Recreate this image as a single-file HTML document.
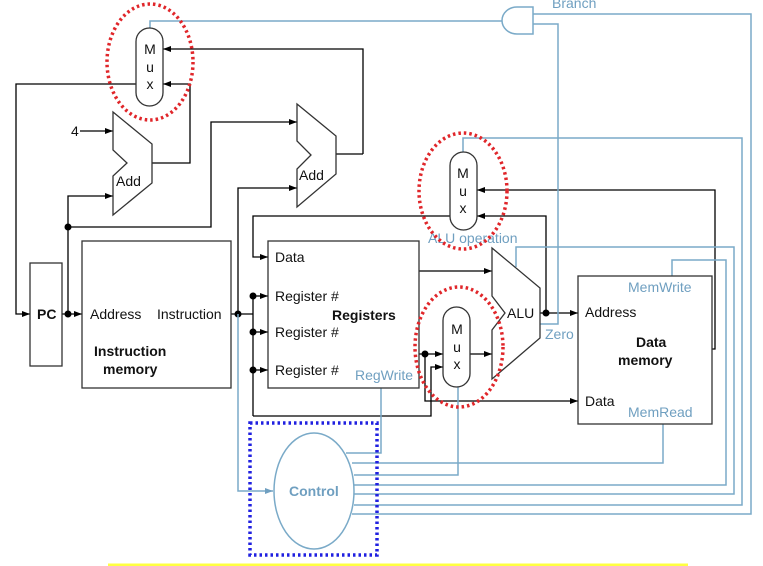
<!DOCTYPE html>
<html><head><meta charset="utf-8"><style>
html,body{margin:0;padding:0;background:#fff;}
svg{display:block;font-family:"Liberation Sans",Arial,sans-serif;}
</style></head><body>
<svg width="763" height="566" viewBox="0 0 763 566" xmlns="http://www.w3.org/2000/svg">
<defs>
<marker id="a" markerWidth="8" markerHeight="6" refX="8" refY="3" orient="auto" markerUnits="userSpaceOnUse"><path d="M0,0 L8,3 L0,6 z" fill="#000"/></marker>
<marker id="b" markerWidth="8" markerHeight="6" refX="8" refY="3" orient="auto" markerUnits="userSpaceOnUse"><path d="M0,0 L8,3 L0,6 z" fill="#6f9fc0"/></marker>
</defs>
<g fill="none" stroke="#000" stroke-width="1.3">
<polyline points="136,84 16,84 16,314 30,314" marker-end="url(#a)"/>
<polyline points="363,154 363,49 163,49" marker-end="url(#a)"/>
<polyline points="152,163 190,163 190,84 163,84" marker-end="url(#a)"/>
<line x1="80" y1="131" x2="113" y2="131" marker-end="url(#a)"/>
<polyline points="68,314 68,196 113,196" marker-end="url(#a)"/>
<polyline points="68,227 211,227 211,122 297,122" marker-end="url(#a)"/>
<polyline points="336,154 363,154"/>
<line x1="62" y1="314" x2="82" y2="314" marker-end="url(#a)"/>
<polyline points="231,314 253,314"/>
<polyline points="238,314 238,188 297,188" marker-end="url(#a)"/>
<line x1="253" y1="296" x2="253" y2="416"/>
<line x1="253" y1="296" x2="268" y2="296" marker-end="url(#a)"/>
<line x1="253" y1="332" x2="268" y2="332" marker-end="url(#a)"/>
<line x1="253" y1="370" x2="268" y2="370" marker-end="url(#a)"/>
<polyline points="253,416 431,416 431,367 443,367" marker-end="url(#a)"/>
<polyline points="450,216 253,216 253,257 268,257" marker-end="url(#a)"/>
<polyline points="546,313 546,216 477,216" marker-end="url(#a)"/>
<polyline points="712,349 715,349 715,190 477,190" marker-end="url(#a)"/>
<line x1="419" y1="271" x2="492" y2="271" marker-end="url(#a)"/>
<polyline points="419,354 443,354" marker-end="url(#a)"/>
<polyline points="425,354 425,401 578,401" marker-end="url(#a)"/>
<line x1="470" y1="354" x2="492" y2="354" marker-end="url(#a)"/>
<line x1="540" y1="313" x2="578" y2="313" marker-end="url(#a)"/>
</g>
<g fill="#000">
<circle cx="68" cy="227" r="3.5"/><circle cx="68" cy="314" r="3.5"/>
<circle cx="238" cy="314" r="3.5"/><circle cx="253" cy="296" r="3.5"/>
<circle cx="253" cy="332" r="3.5"/><circle cx="253" cy="370" r="3.5"/>
<circle cx="425" cy="354" r="3.5"/><circle cx="546" cy="313" r="3.5"/>
</g>
<g fill="none" stroke="#7aaac8" stroke-width="1.5">
<polyline points="150,28 150,21 502,21"/>
<polyline points="533,14 751,14 751,514 352,514"/>
<polyline points="540,324 558,324 558,24 533,24"/>
<polyline points="238,314 238,491 273,491" marker-end="url(#b)"/>
<polyline points="381,388 381,453 346,453"/>
<polyline points="663,424 663,463 352,463"/>
<polyline points="458,387 458,475 354,475"/>
<polyline points="672,276 672,260 726,260 726,485 354,485"/>
<polyline points="516,267 516,247 734,247 734,494 354,494"/>
<polyline points="463,152 463,138 742,138 742,505 354,505"/>
<path d="M533,7 L517,7 A15,13.5 0 0 0 517,34 L533,34 Z" fill="#fff"/>
<ellipse cx="314" cy="491" rx="40" ry="58" fill="#fff"/>
</g>
<g fill="#fff" stroke="#333" stroke-width="1.3">
<rect x="136" y="28" width="27" height="78" rx="13.5"/>
<rect x="450" y="152" width="27" height="78" rx="13.5"/>
<rect x="443" y="307" width="27" height="80" rx="13.5"/>
<polygon points="113,112 152,144 152,183 113,215 113,176 127,163 113,150"/>
<polygon points="297,104 336,136 336,174 297,207 297,169 311,155 297,141"/>
<polygon points="492,248 540,288 540,338 492,379 492,330 505,313 492,296"/>
<rect x="30" y="263" width="32" height="103"/>
<rect x="82" y="241" width="149" height="147"/>
<rect x="268" y="241" width="151" height="147"/>
<rect x="578" y="276" width="134" height="148"/>
</g>
<g font-size="14" fill="#111">
<text x="150" y="54" text-anchor="middle">M</text><text x="150" y="72" text-anchor="middle">u</text><text x="150" y="89" text-anchor="middle">x</text>
<text x="463" y="178" text-anchor="middle">M</text><text x="463" y="196" text-anchor="middle">u</text><text x="463" y="213" text-anchor="middle">x</text>
<text x="457" y="334" text-anchor="middle">M</text><text x="457" y="352" text-anchor="middle">u</text><text x="457" y="369" text-anchor="middle">x</text>
<text x="71" y="136">4</text>
<text x="116" y="186">Add</text>
<text x="299" y="180">Add</text>
<text x="37" y="319" font-weight="bold">PC</text>
<text x="90" y="319">Address</text>
<text x="157" y="319">Instruction</text>
<text x="94" y="356" font-weight="bold">Instruction</text>
<text x="103" y="374" font-weight="bold">memory</text>
<text x="275" y="262">Data</text>
<text x="275" y="301">Register #</text>
<text x="275" y="337">Register #</text>
<text x="275" y="375">Register #</text>
<text x="332" y="320" font-weight="bold">Registers</text>
<text x="507" y="318">ALU</text>
<text x="585" y="317">Address</text>
<text x="585" y="406">Data</text>
<text x="636" y="347" font-weight="bold">Data</text>
<text x="618" y="365" font-weight="bold">memory</text>
</g>
<g font-size="14" fill="#6f9fc0">
<text x="552" y="8">Branch</text>
<text x="428" y="243">ALU operation</text>
<text x="355" y="380">RegWrite</text>
<text x="545" y="339">Zero</text>
<text x="628" y="292">MemWrite</text>
<text x="628" y="417">MemRead</text>
<text x="289" y="496" font-weight="bold">Control</text>
</g>
<g fill="none" stroke-dasharray="2.5,3" stroke-width="3.5">
<ellipse cx="150" cy="62" rx="43" ry="58" stroke="#e0262a"/>
<ellipse cx="463" cy="191" rx="44" ry="58" stroke="#e0262a"/>
<ellipse cx="459" cy="347" rx="44" ry="60" stroke="#e0262a"/>
<rect x="250" y="423" width="127" height="132" stroke="#2020e0"/>
</g>
<line x1="108" y1="565" x2="688" y2="565" stroke="#ffff40" stroke-width="3"/>
</svg>
</body></html>
